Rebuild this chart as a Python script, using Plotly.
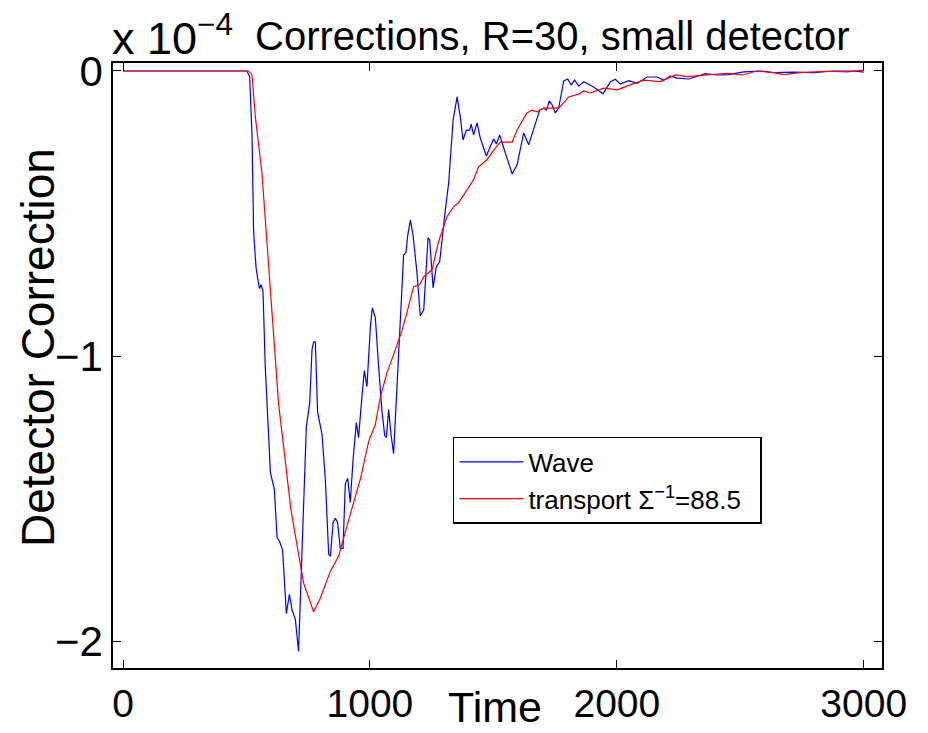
import plotly.graph_objects as go

# ---- data (values in units of 1e-4) ----
wave_t = [0, 502, 513, 522.5, 529, 539, 545, 553, 559, 567, 576, 586, 597, 613, 624, 634, 646.5,
          661.5, 674, 685, 698, 711, 721, 731.5, 742.5, 756, 765.5, 772, 779, 788, 806, 819.5,
          833, 840, 851, 860, 869, 880, 891, 900.5, 910, 920.5, 931.5, 945, 954, 968, 977.5,
          988, 1002, 1010, 1022, 1035, 1049, 1060, 1066.5, 1076, 1085.5, 1096, 1110, 1123,
          1136.5, 1146, 1153, 1164, 1175, 1191, 1204, 1218, 1235.5, 1242, 1256, 1269, 1282.5,
          1305.5, 1319, 1337, 1353, 1366, 1377, 1390.5, 1404, 1410, 1420, 1434, 1447, 1471.5,
          1501, 1512, 1525.5, 1542, 1576, 1596, 1623, 1643, 1663, 1687.5, 1704, 1715, 1727,
          1738, 1751, 1764.5, 1785, 1801, 1815, 1829, 1845.5, 1866, 1906, 1944, 1974, 1994,
          2014, 2048, 2082, 2122.5, 2163, 2190, 2217, 2244, 2291, 2359, 2406, 2453, 2514,
          2581, 2635, 2716, 2797, 2878, 2960, 3000]
wave_v = [0, 0, -0.020, -0.228, -0.564, -0.690, -0.725, -0.763, -0.749, -0.770, -1.033, -1.232,
          -1.407, -1.467, -1.635, -1.649, -1.680, -1.902, -1.834, -1.890, -1.922, -2.034, -1.768,
          -1.502, -1.246, -1.166, -0.977, -0.949, -0.949, -1.194, -1.274, -1.432, -1.694, -1.701,
          -1.582, -1.568, -1.582, -1.673, -1.673, -1.446, -1.428, -1.512, -1.365, -1.232, -1.285,
          -1.138, -1.050, -1.106, -0.896, -0.830, -0.865, -1.033, -1.194, -1.278, -1.285, -1.187,
          -1.274, -1.341, -1.099, -0.896, -0.644, -0.637, -0.578, -0.522, -0.578, -0.711, -0.858,
          -0.837, -0.585, -0.592, -0.760, -0.686, -0.669, -0.487, -0.392, -0.172, -0.091, -0.161,
          -0.242, -0.207, -0.207, -0.186, -0.224, -0.182, -0.235, -0.298, -0.238, -0.256, -0.224,
          -0.270, -0.361, -0.329, -0.217, -0.259, -0.207, -0.137, -0.130, -0.137, -0.105, -0.119,
          -0.147, -0.130, -0.035, -0.028, -0.049, -0.032, -0.053, -0.038, -0.056, -0.080, -0.038,
          -0.029, -0.046, -0.034, -0.043, -0.021, -0.021, -0.032, -0.018, -0.025, -0.028, -0.009,
          -0.014, -0.013, -0.003, 0.0, -0.006, -0.004, -0.006, 0.0, 0.0, -0.004]

transport_t = [0, 509, 522.5, 536, 563, 597, 630, 680.5, 711, 731.5, 772, 799, 840, 873, 920.5,
               961, 995, 1022, 1042, 1069, 1096, 1130, 1150, 1177, 1201, 1218, 1252, 1278, 1312,
               1339, 1359, 1386.5, 1420, 1440, 1474, 1508, 1528, 1576, 1596, 1636, 1657, 1677,
               1704, 1758, 1771, 1805, 1845.5, 1866, 1893, 1947, 2001, 2062, 2109, 2176, 2237,
               2285, 2352, 2447, 2507, 2568, 2635, 2676, 2743, 2852, 2933, 2993, 3000]
transport_v = [0, 0, -0.014, -0.161, -0.360, -0.763, -1.165, -1.540, -1.701, -1.795, -1.895,
               -1.848, -1.753, -1.701, -1.554, -1.431, -1.298, -1.239, -1.144, -1.057, -0.994,
               -0.910, -0.847, -0.756, -0.749, -0.721, -0.696, -0.598, -0.511, -0.476, -0.462,
               -0.424, -0.381, -0.336, -0.311, -0.270, -0.249, -0.249, -0.207, -0.147, -0.137,
               -0.143, -0.130, -0.130, -0.125, -0.091, -0.081, -0.070, -0.077, -0.060, -0.066,
               -0.046, -0.032, -0.037, -0.014, -0.020, -0.014, -0.008, -0.014, 0.0, -0.006,
               -0.013, -0.006, -0.001, -0.003, 0.003, 0.0]

x_ticks = [0, 1000, 2000, 3000]
y_ticks = [-2, -1, 0]
y_ticktext = ["\u22122", "\u22121", "0"]

FONT = "Liberation Sans, Arial, Helvetica"

fig = go.Figure()
fig.add_trace(go.Scatter(x=wave_t, y=wave_v, mode="lines", name="Wave",
                         line=dict(color="#0000FF", width=1.2)))
fig.add_trace(go.Scatter(x=transport_t, y=transport_v, mode="lines",
                         name="transport \u03a3<sup>\u22121</sup>=88.5\u00a0\u00a0",
                         line=dict(color="#FF0000", width=1.2)))

axis_common = dict(showline=True, linecolor="black", linewidth=1.5, mirror="ticks",
                   ticks="inside", ticklen=8, tickcolor="black", tickwidth=1,
                   showgrid=False, zeroline=False, automargin=False)

fig.update_xaxes(range=[-40.5, 3074], tickvals=x_ticks,
                 tickfont=dict(family=FONT, size=39, color="black"), **axis_common)
fig.update_yaxes(range=[-2.0924, 0.028], tickvals=y_ticks, ticktext=y_ticktext,
                 tickfont=dict(family=FONT, size=42, color="black"), **axis_common)

fig.update_layout(
    width=928, height=733,
    margin=dict(l=113, r=46, t=63, b=65),
    plot_bgcolor="white", paper_bgcolor="white",
    showlegend=True,
    legend=dict(x=0.442, y=0.382, xanchor="left", yanchor="top",
                bgcolor="white", bordercolor="black", borderwidth=1.5,
                itemwidth=64,
                font=dict(family=FONT, size=26, color="black"),
                tracegroupgap=0),
    annotations=[
        dict(text="Corrections, R=30, small detector", xref="paper", yref="paper",
             x=0.182, y=1.0446, xanchor="left", yanchor="middle", showarrow=False,
             font=dict(family=FONT, size=40, color="black")),
        dict(text="x 10<sup>\u22124</sup>", xref="paper", yref="paper",
             x=-0.004, y=1.046, xanchor="left", yanchor="middle", showarrow=False,
             font=dict(family=FONT, size=45, color="black")),
        dict(text="Time", xref="paper", yref="paper",
             x=0.497, y=-0.1074, xanchor="center", yanchor="bottom", showarrow=False,
             font=dict(family=FONT, size=43, color="black")),
        dict(text="Detector Correction", xref="paper", yref="paper", textangle=-90,
             x=-0.0975, y=0.529, xanchor="center", yanchor="middle", showarrow=False,
             font=dict(family=FONT, size=46, color="black")),
    ],
)

fig.write_html("out.html")
